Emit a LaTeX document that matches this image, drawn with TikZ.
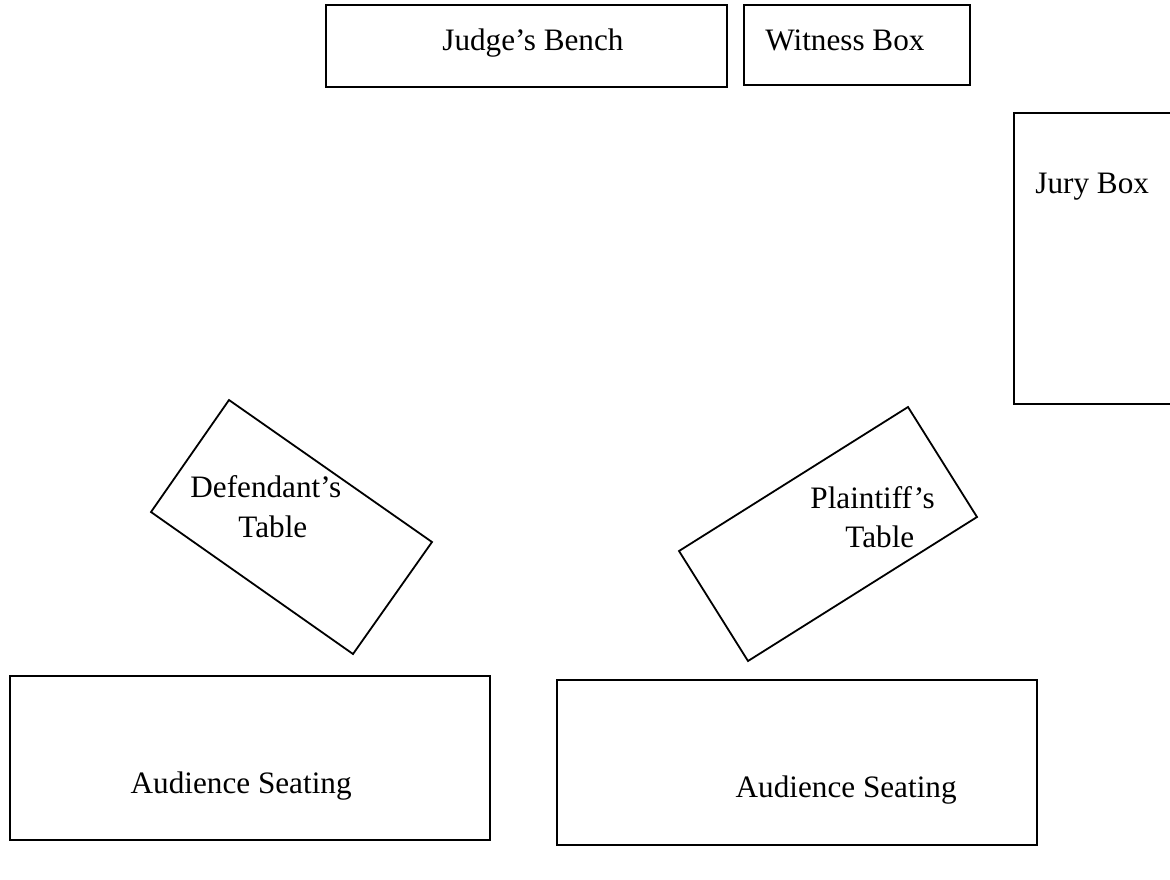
\documentclass[tikz,border=0pt]{standalone}
\usepackage{fontspec}
\setmainfont{Liberation Serif}
\begin{document}
\begin{tikzpicture}[x=0.5pt,y=-0.5pt,
  room/.style={draw, line width=0.9pt, line join=miter},
  lbl/.style={font=\fontsize{15.6}{19}\selectfont, inner sep=0pt}]
\useasboundingbox (0,0) rectangle (1170,879);
% Judge's bench and witness box
\draw[room] (326,5) rectangle (727,87);
\node[lbl, anchor=base west] (judge) at (442,50) {Judge’s Bench};
\draw[room] (744,5) rectangle (970,85);
\node[lbl, anchor=base west] (witness) at (765,50) {Witness Box};
% Jury box (runs off the right edge)
\draw[room] (1175,113) -- (1014,113) -- (1014,404) -- (1175,404);
\node[lbl, anchor=base west] (jury) at (1035,193) {Jury Box};
% Defendant's table
\coordinate (d1) at (229,400);
\coordinate (d2) at (432,542);
\coordinate (d3) at (353,654);
\coordinate (d4) at (151,512);
\draw[room] (d1) -- (d2) -- (d3) -- (d4) -- cycle;
\node[lbl, anchor=base west] (deft1) at (190,497) {Defendant’s};
\node[lbl, anchor=base west] (deft2) at (238,537) {Table};
% Plaintiff's table
\coordinate (p1) at (908,407);
\coordinate (p2) at (977,517);
\coordinate (p3) at (748,661);
\coordinate (p4) at (679,551);
\draw[room] (p1) -- (p2) -- (p3) -- (p4) -- cycle;
\node[lbl, anchor=base west] (plt1) at (810,508) {Plaintiff’s};
\node[lbl, anchor=base west] (plt2) at (845,547) {Table};
% Audience seating
\draw[room] (10,676) rectangle (490,840);
\node[lbl, anchor=base east] (aud1) at (352,793) {Audience Seating};
\draw[room] (557,680) rectangle (1037,845);
\node[lbl, anchor=base east] (aud2) at (957,797) {Audience Seating};
\end{tikzpicture}
\end{document}
